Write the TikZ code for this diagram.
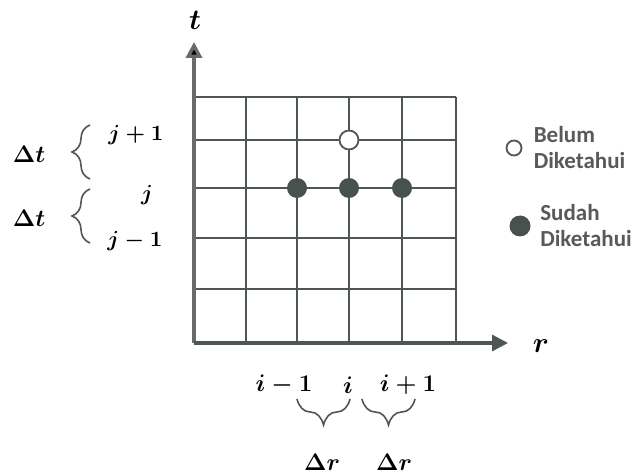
\documentclass[tikz,border=0pt]{standalone}
\usepackage{amsmath}
\usepackage{fontspec}
\newfontfamily\legendfont{Carlito}
\usetikzlibrary{positioning}
\usetikzlibrary{arrows.meta}
\usetikzlibrary{decorations.pathreplacing}
\definecolor{gridc}{HTML}{4F5752}
\definecolor{dotc}{HTML}{48524D}
\definecolor{legc}{HTML}{595959}
\definecolor{axisc}{HTML}{6A6A6A}

\begin{document}
\begin{tikzpicture}[x=0.5pt, y=-0.5pt,
  gridline/.style={draw=gridc, line width=0.9pt},
  axisline/.style={line width=1.7pt, -{Triangle[length=8pt, width=8pt]}},
  known/.style={circle, fill=dotc, minimum size=10pt, inner sep=0pt},
  unknown/.style={circle, draw=gridc, fill=white, line width=0.9pt, minimum size=9.5pt, inner sep=0pt},
  bracket/.style={decorate, draw=gridc, line width=0.8pt},
  lbl/.style={inner sep=0pt, font=\fontsize{12}{14}\selectfont},
  legend/.style={inner sep=0pt, align=left, text=legc, font=\legendfont\bfseries\fontsize{11.5}{13}\selectfont}]
  \useasboundingbox (0,0) rectangle (636,475);

  \coordinate (o) at (194,343);
  \coordinate (ttip) at (194,42);
  \coordinate (rtip) at (508,343);

  \foreach \x in {246,297,349,402,456}
    \draw[gridline] (\x,97) -- (\x,343);
  \foreach \y in {97,140,188,238,289}
    \draw[gridline] (194,\y) -- (456,\y);

  \draw[axisline, draw=axisc, -{Triangle[length=8pt, width=8pt, fill=black]}] (o) -- (ttip);
  \draw[axisline, draw=gridc] (o) -- (rtip);

  \node[lbl, font=\fontsize{14}{16}\selectfont] (tlab) at (195,20) {$\boldsymbol{t}$};
  \node[lbl, font=\fontsize{14}{16}\selectfont] (rlab) at (541,346) {$\boldsymbol{r}$};

  \node[unknown] (u1) at (349,140) {};
  \node[known] (k1) at (297,188) {};
  \node[known] (k2) at (349,188) {};
  \node[known] (k3) at (402,188) {};

  \node[lbl, font=\fontsize{11}{13}\selectfont] (jp) at (136,135) {$\boldsymbol{j+1}$};
  \node[lbl, font=\fontsize{11}{13}\selectfont] (j) at (147,195) {$\boldsymbol{j}$};
  \node[lbl, font=\fontsize{11}{13}\selectfont] (jm) at (135,241) {$\boldsymbol{j-1}$};
  \node[lbl, font=\fontsize{13}{15}\selectfont] (dt1) at (29,154) {$\boldsymbol{\Delta t}$};
  \node[lbl, font=\fontsize{13}{15}\selectfont] (dt2) at (29,218) {$\boldsymbol{\Delta t}$};
  \draw[bracket, decoration={brace, amplitude=9pt}] (90,179) -- (90,125);
  \draw[bracket, decoration={brace, amplitude=9pt}] (90,243) -- (90,189);

  \node[lbl] (im) at (284,385) {$\boldsymbol{i-1}$};
  \node[lbl] (i) at (348,385) {$\boldsymbol{i}$};
  \node[lbl] (ip) at (408,385) {$\boldsymbol{i+1}$};
  \draw[bracket, decoration={brace, amplitude=13pt}] (350,399) -- (297,399);
  \draw[bracket, decoration={brace, amplitude=13pt}] (415,399) -- (362,399);
  \node[lbl, font=\fontsize{12.5}{15}\selectfont] (dr1) at (322,462) {$\boldsymbol{\Delta r}$};
  \node[lbl, font=\fontsize{12.5}{15}\selectfont] (dr2) at (394,462) {$\boldsymbol{\Delta r}$};

  \node[unknown, minimum size=7.5pt] (lunk) at (514,148) {};
  \node[legend, right=5.5pt of lunk] (lunktext) {Belum\\Diketahui};
  \node[known, minimum size=10.5pt] (lkn) at (520,226) {};
  \node[legend, right=4.5pt of lkn] (lkntext) {Sudah\\Diketahui};
\end{tikzpicture}
\end{document}
